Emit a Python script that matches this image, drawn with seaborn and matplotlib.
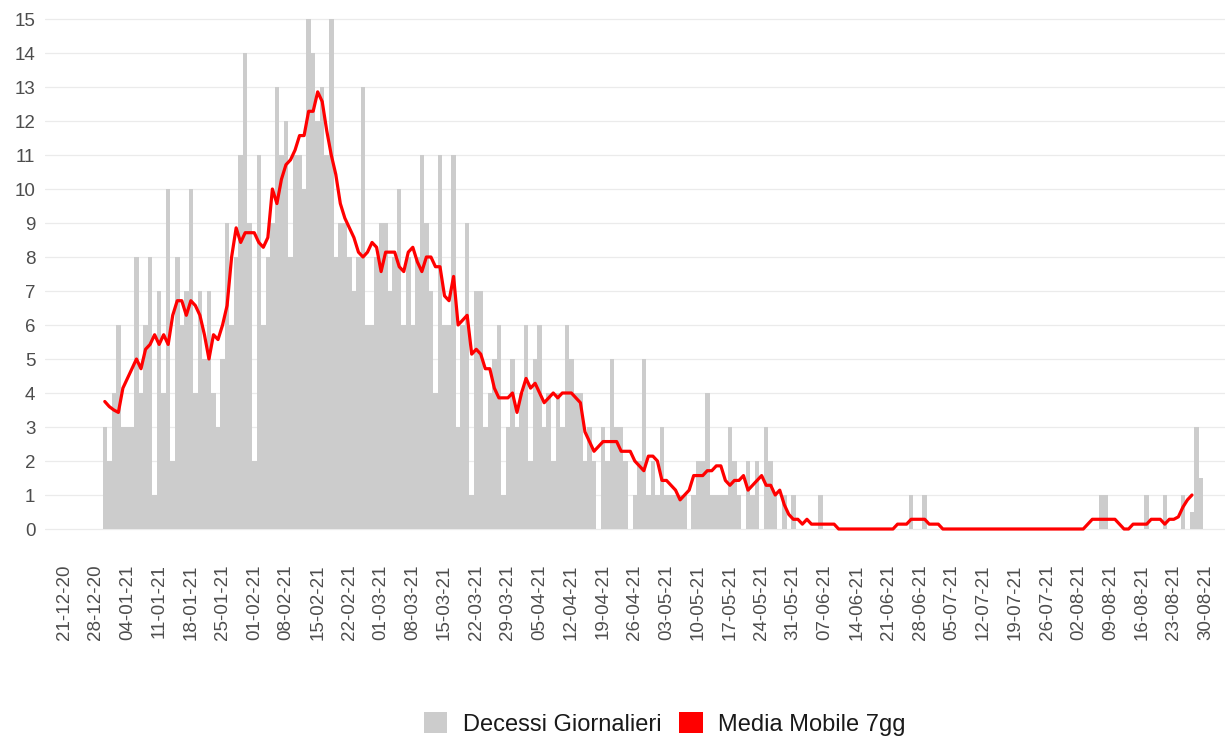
import numpy as np
import pandas as pd
import matplotlib
matplotlib.use("Agg")
import matplotlib.pyplot as plt
import seaborn as sns
from matplotlib.patches import Patch

# ---------------- data ----------------
first_day = "2020-12-30"
deaths = [
    3, 2, 4, 6, 3, 3, 3,
    8, 4, 6, 8, 1, 7, 4,
    10, 2, 8, 6, 7, 10, 4,
    7, 5, 7, 4, 3, 5, 9,
    6, 8, 11, 14, 9, 2, 11,
    6, 8, 9, 13, 11, 12, 8,
    11, 11, 10, 15, 14, 12, 13,
    11, 15, 8, 9, 9, 8, 7,
    8, 13, 6, 6, 8, 9, 9,
    7, 8, 10, 6, 8, 6, 8,
    11, 9, 7, 4, 11, 6, 6,
    11, 3, 6, 9, 1, 7, 7,
    3, 4, 5, 6, 1, 3, 5,
    3, 4, 6, 2, 5, 6, 3,
    4, 2, 4, 3, 6, 5, 4,
    4, 2, 3, 2, 0, 3, 2,
    5, 3, 3, 2, 0, 1, 2,
    5, 1, 2, 1, 3, 1, 1,
    1, 1, 1, 0, 1, 2, 2,
    4, 1, 1, 1, 1, 3, 2,
    1, 0, 2, 1, 2, 0, 3,
    2, 1, 0, 1, 0, 1, 0,
    0, 0, 0, 0, 1, 0, 0,
    0, 0, 0, 0, 0, 0, 0, 0, 0, 0, 0, 0, 0, 0, 0, 0, 0,
    1, 0, 0, 1,
    0, 0, 0, 0, 0, 0, 0, 0, 0, 0, 0, 0, 0, 0, 0, 0, 0, 0, 0,
    0, 0, 0, 0, 0, 0, 0, 0, 0, 0, 0, 0, 0, 0, 0, 0, 0, 0, 0,
    1, 1,
    0, 0, 0, 0, 0, 0, 0, 0,
    1, 0, 0, 0,
    1, 0, 0, 0,
    1, 0, 0.5, 3, 1.5,
]
ma_hidden_tail = 2          # moving average not shown for the last two days
tick_first = "2020-12-21"
tick_last = "2021-08-30"
legend_labels = ["Decessi Giornalieri", "Media Mobile 7gg"]
bar_color = "#cccccc"
line_color = "#ff0000"

# ---------------- derived ----------------
origin = pd.Timestamp(tick_first)
dates = pd.date_range(first_day, periods=len(deaths), freq="D")
xpos = np.asarray((dates - origin).days, dtype=float)
moving_avg = pd.Series(deaths, dtype=float).rolling(7, center=True, min_periods=1).mean().to_numpy()
n_ma = len(deaths) - ma_hidden_tail

tick_dates = pd.date_range(tick_first, tick_last, freq="7D")
tick_pos = np.asarray((tick_dates - origin).days, dtype=float)
tick_labels = list(tick_dates.strftime("%d-%m-%y"))

# ---------------- plot ----------------
sns.set_theme(style="white")
plt.rcParams["font.family"] = ["Liberation Sans", "DejaVu Sans"]

fig = plt.figure(figsize=(12.25, 7.4), dpi=100)
ax = fig.add_axes([45 / 1225, 1 - 554.5 / 740, 1180 / 1225, 561 / 740])

sns.barplot(x=xpos, y=deaths, native_scale=True, width=1, color=bar_color,
            saturation=1, linewidth=0, errorbar=None, ax=ax)
sns.lineplot(x=xpos[:n_ma], y=moving_avg[:n_ma], color=line_color,
             linewidth=2.3, ax=ax)

ax.set_xlim(-19 / 4.53, (1225 - 64) / 4.53)
ax.set_ylim(-0.75, 15.75)
ax.set_yticks(range(16))
ax.set_yticklabels([str(v) for v in range(16)])
ax.set_xticks(tick_pos)
ax.set_xticklabels(tick_labels, rotation=90)
ax.set_xlabel("")
ax.set_ylabel("")
ax.grid(axis="y", color="#ebebeb", linewidth=0.9)
ax.grid(axis="x", visible=False)
ax.set_axisbelow(True)
for s in ax.spines.values():
    s.set_visible(False)
ax.tick_params(axis="both", length=0, labelsize=13.5, colors="#4d4d4d", pad=7)

handles = [Patch(facecolor=bar_color, edgecolor="none"),
           Patch(facecolor=line_color, edgecolor="none")]
fig.legend(handles, legend_labels, loc="center", bbox_to_anchor=(0.5425, 0.0216),
           ncol=2, frameon=False, fontsize=17, handlelength=1.0, handleheight=0.95,
           handletextpad=0.65, columnspacing=0.75, labelcolor="#1a1a1a")

fig.savefig("out.png", dpi=100)
